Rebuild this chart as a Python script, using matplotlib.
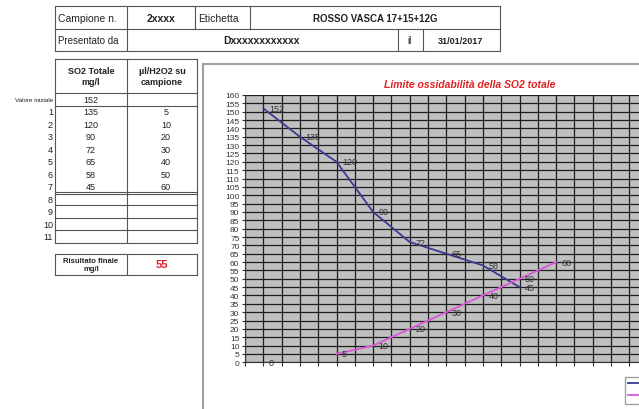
import numpy as np
import matplotlib
matplotlib.use("Agg")
import matplotlib.pyplot as plt
from matplotlib.patches import Rectangle

plt.rcParams['font.family'] = ['Liberation Sans', 'DejaVu Sans']

# chart data
categories = ["", "5", "10", "20", "30", "40", "50", "60", "", "", ""]
so2 = [152, 135, 120, 90, 72, 65, 58, 45]
h2o2 = [0, np.nan, 5, 10, 20, 30, 40, 50, 60]

# table data
row_labels = ["Valore iniziale", "1", "2", "3", "4", "5", "6", "7", "8", "9", "10", "11"]
table_so2 = ["152", "135", "120", "90", "72", "65", "58", "45"]
table_h2o2 = ["", "5", "10", "20", "30", "40", "50", "60"]
risultato = "55"

W, H = 639, 410
fig = plt.figure(figsize=(W / 100, H / 100), dpi=100)
fig.patch.set_facecolor("white")

# overlay in pixel coordinates for the spreadsheet parts
bg = fig.add_axes([0, 0, 1, 1])
bg.set_xlim(0, W)
bg.set_ylim(H, 0)
bg.axis("off")

LC = "#555555"
TC = "#222222"


def hline(x0, x1, y, lw=0.8):
    bg.plot([x0, x1], [y, y], color=LC, lw=lw)


def vline(x, y0, y1, lw=0.8):
    bg.plot([x, x], [y0, y1], color=LC, lw=lw)


# header table
hline(55, 500, 7)
hline(55, 500, 30)
hline(55, 500, 52)
vline(55, 7, 52)
vline(500, 7, 52)
for x in (127, 195, 250):
    vline(x, 7, 30)
for x in (127, 398, 423):
    vline(x, 30, 52)
bg.text(58, 18.5, "Campione n.", fontsize=7.5, va="center", color=TC)
bg.text(161, 18.5, "2xxxx", fontsize=7.5, weight="bold", ha="center", va="center", color=TC)
bg.text(198, 18.5, "Etichetta", fontsize=7.5, va="center", color=TC)
bg.text(375, 18.5, "ROSSO VASCA 17+15+12G", fontsize=7, weight="bold", ha="center", va="center", color=TC)
bg.text(58, 41, "Presentato da", fontsize=7, va="center", color=TC)
bg.text(262, 41, "Dxxxxxxxxxxxx", fontsize=7.5, weight="bold", ha="center", va="center", color=TC)
bg.text(410, 41, "il", fontsize=7, ha="center", va="center", color=TC)
bg.text(461, 41, "31/01/2017", fontsize=6.5, weight="bold", ha="center", va="center", color=TC)

# values table
top, head_bot, step = 60, 94.3, 12.45
tab_bot = head_bot + step * 12
hline(55, 197, top)
hline(55, 197, head_bot)
hline(55, 197, head_bot + step)
hline(55, 197, head_bot + step * 8 - 1)
hline(55, 197, head_bot + step * 8 + 1)
for i in range(9, 13):
    hline(55, 197, head_bot + step * i)
vline(55, top, tab_bot)
vline(127, top, tab_bot)
vline(197, top, tab_bot)
bg.text(91, 77, "SO2 Totale\nmg/l", fontsize=6.5, weight="bold", ha="center", va="center",
        color=TC, linespacing=1.2)
bg.text(162, 77, "µl/H2O2 su\ncampione", fontsize=6.5, weight="bold", ha="center", va="center",
        color=TC, linespacing=1.2)
for i, lab in enumerate(row_labels):
    yc = head_bot + step * (i + 0.5)
    bg.text(53, yc, lab, fontsize=4.5 if i == 0 else 6.5, ha="right", va="center", color=TC)
for i, v in enumerate(table_so2):
    bg.text(91, head_bot + step * (i + 0.5), v, fontsize=6.5, ha="center", va="center", color=TC)
for i, v in enumerate(table_h2o2):
    bg.text(166, head_bot + step * (i + 0.5), v, fontsize=6.5, ha="center", va="center", color=TC)

# result box
hline(55, 197, 255)
hline(55, 197, 276)
vline(55, 255, 276)
vline(127, 255, 276)
vline(197, 255, 276)
bg.text(91, 265.5, "Risultato finale\nmg/l", fontsize=5.5, weight="bold", ha="center", va="center",
        color=TC, linespacing=1.1)
bg.text(162, 265.5, risultato, fontsize=8, weight="bold", ha="center", va="center", color="#e0202a")

# chart frame
bg.add_patch(Rectangle((203, 65), 460, 360, facecolor="white", edgecolor="#a0a0a0", lw=1.5))

# chart
x0, y_top, y_bot = 245, 96, 363.3
cat_w = 36.6
n = len(categories)
ax = fig.add_axes([x0 / W, (H - y_bot) / H, n * cat_w / W, (y_bot - y_top) / H])
ax.set_facecolor("#c0c0c0")
ax.set_xlim(0, n)
ax.set_ylim(0, 160)

ax.set_xticks(np.arange(0, n + 0.1, 0.5))
ax.set_xticklabels([])
ax.set_xticks(np.arange(n) + 0.5, minor=True)
ax.set_xticklabels(categories, minor=True)
ax.tick_params(axis="x", which="major", length=3, direction="out", color="#333333")
ax.tick_params(axis="x", which="minor", length=0, pad=8, labelsize=6.5, labelcolor="#333333")
ax.set_yticks(np.arange(0, 161, 5))
ax.tick_params(axis="y", length=2, pad=2, labelsize=6, labelcolor="#333333", color="#333333")
ax.grid(True, which="major", color="#1e1e1e", lw=0.9)
ax.set_axisbelow(True)
for s in ("top", "right"):
    ax.spines[s].set_visible(False)
for s in ("left", "bottom"):
    ax.spines[s].set_color("#333333")

xs_so2 = np.arange(len(so2)) + 0.5
xs_h2o2 = np.arange(len(h2o2)) + 0.5
ax.plot(xs_so2, so2, color="#3a3a94", lw=1.3, label="SO2 Totale mg/l")
ax.plot(xs_h2o2, h2o2, color="#dd55dd", lw=1.3, label="µl/H2O2 su campione")
for x, v in zip(xs_so2, so2):
    ax.annotate(str(v), (x, v), xytext=(4, 0), textcoords="offset points",
                fontsize=6.5, va="center", ha="left", color="#333333")
for x, v in zip(xs_h2o2, h2o2):
    if not np.isnan(v):
        ax.annotate(str(int(v)), (x, v), xytext=(4, 0), textcoords="offset points",
                    fontsize=6.5, va="center", ha="left", color="#333333")

fig.text(470 / W, 1 - 85 / H, "Limite ossidabilità della SO2 totale", fontsize=7.5,
         weight="bold", style="italic", color="#e02020", ha="center", va="center")

fig.legend(loc="upper left", bbox_to_anchor=(625 / W, 1 - 378 / H), fontsize=6,
           frameon=True, fancybox=False, edgecolor="#888888", borderpad=0.4,
           handlelength=2.5, borderaxespad=0)

fig.savefig("out.png", dpi=100)
